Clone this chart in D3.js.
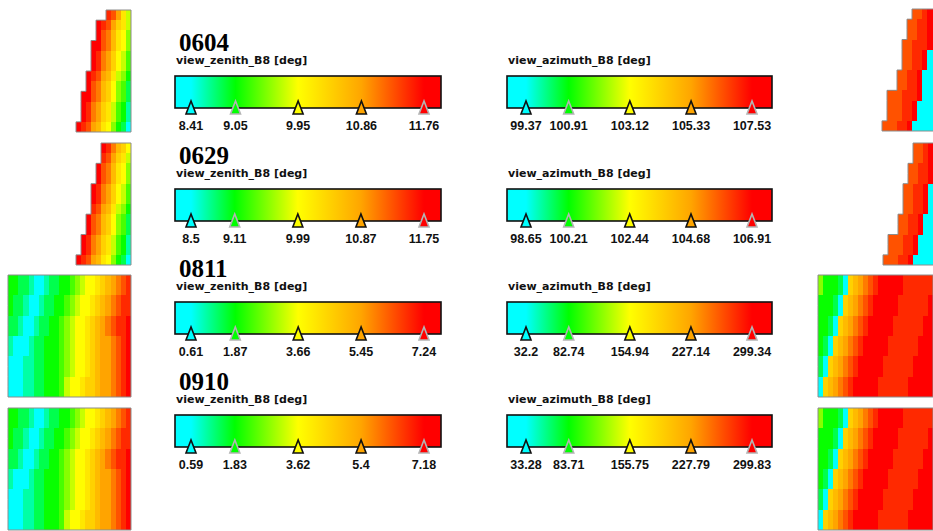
<!DOCTYPE html>
<html>
<head>
<meta charset="utf-8">
<script src="https://cdn.jsdelivr.net/npm/d3@7"></script>
<style>
  body { margin: 0; background: #fff; }
  svg { display: block; }
</style>
</head>
<body>
<svg id="chart" width="933" height="531"></svg>
<script>
"use strict";

// acquisition dates, one block each
const dates = ["0604", "0629", "0811", "0910"];

const zenithTitle = "view_zenith_B8 [deg]";
const azimuthTitle = "view_azimuth_B8 [deg]";

// colour bar marker values per date
const zenithTicks = [
  [8.41, 9.05, 9.95, 10.86, 11.76],
  [8.5, 9.11, 9.99, 10.87, 11.75],
  [0.61, 1.87, 3.66, 5.45, 7.24],
  [0.59, 1.83, 3.62, 5.4, 7.18]
];
const azimuthTicks = [
  [99.37, 100.91, 103.12, 105.33, 107.53],
  [98.65, 100.21, 102.44, 104.68, 106.91],
  [32.2, 82.74, 154.94, 227.14, 299.34],
  [33.28, 83.71, 155.75, 227.79, 299.83]
];

// colours at the five markers
const rampColors = ["#00ffff", "#00ff00", "#ffff00", "#ffa500", "#ff0000"];
const markerStroke = ["#111", "#b4b4b4", "#111", "#111", "#b4b4b4"];

// thumbnails: one string per raster row, hex level 0 (min) .. f (max), "." = no data
const zenith0604 = [
  "......edb86",
  "....fedb986",
  "....fdca875",
  "...ffdca875",
  "...fecb9764",
  "...fecb9764",
  "..fedba8653",
  "..fdca97542",
  ".ffdca97542",
  ".fecb986431",
  ".fecb986431",
  "fedba875320"
];
const zenith0629 = [
  ".....feca97",
  ".....edb986",
  "....fdca875",
  "....fdca875",
  "...fecb9764",
  "...fecb9764",
  "...edba8653",
  "..fdca97542",
  "..fdca97542",
  ".fecb986431",
  ".fecb986431",
  "fedba875320"
];
const zenith0811 = [
  "3322100122334567789abcde",
  "3322100122334567789abcde",
  "322100122334567789abcdee",
  "322100122334567789abcdee",
  "22100122334567789abcdeef",
  "22100122334567789abcdeef",
  "10001223334567789abbcdef",
  "10001223334567789abbcdef",
  "00011223334567789abbcdef",
  "00011223334567789abbcdef",
  "00011223334677899abbcdef",
  "00011223334677899abbcdef"
];
const zenith0910 = [
  "3322100122334567789abcde",
  "3322100122334567789abcde",
  "322100122334567789abcdee",
  "322100122334567789abcdee",
  "22100122334567789abcdeef",
  "22100122334567789abcdeef",
  "10001223334567789abbcdef",
  "10001223334567789abbcdef",
  "00011223334567789abbcdef",
  "00011223334567789abbcdef",
  "00011223334677899abbcdef",
  "00011223334677899abbcdef"
];
const azimuth0604 = [
  "......ddeff",
  ".....ddeeff",
  ".....ddeeff",
  "....ddeeeff",
  "....ddeef00",
  "....ddeef00",
  "...ddeef000",
  "...ddeef000",
  ".dddeeef000",
  ".dddeef0000",
  ".dddeef0000",
  "dddeef00000"
];
const azimuth0629 = [
  "......ddeff",
  "......ddeff",
  ".....ddeeff",
  ".....ddeeff",
  "....ddeef00",
  "....ddeef00",
  "....ddeef00",
  "...ddeef000",
  "...ddeef000",
  ".dddeef0000",
  ".dddeef0000",
  "dddeef00000"
];
const azimuth0811 = [
  "5333209abcdefffffeeeeee",
  "5333209abcdefffffeeeeee",
  "333209abcdefffffeeeeeef",
  "333209abcdefffffeeeeeef",
  "33209abcdefffffeeeeeeff",
  "33209abcdefffffeeeeeeff",
  "3209abcdefffffeeeeeefff",
  "3209abcdefffffeeeeeefff",
  "209abcdefffffeeeeeeffff",
  "209abcdefffffeeeeeeffff",
  "09abcdefffffeeeeeefffff",
  "09abcdefffffeeeeeefffff"
];
const azimuth0910 = [
  "5333209abcdefffffeeeeee",
  "5333209abcdefffffeeeeee",
  "333209abcdefffffeeeeeef",
  "333209abcdefffffeeeeeef",
  "33209abcdefffffeeeeeeff",
  "33209abcdefffffeeeeeeff",
  "3209abcdefffffeeeeeefff",
  "3209abcdefffffeeeeeefff",
  "209abcdefffffeeeeeeffff",
  "209abcdefffffeeeeeeffff",
  "09abcdefffffeeeeeefffff",
  "09abcdefffffeeeeeefffff"
];

const zenithMaps = [zenith0604, zenith0629, zenith0811, zenith0910];
const azimuthMaps = [azimuth0604, azimuth0629, azimuth0811, azimuth0910];

// ---- layout ----
const step = 113;   // vertical distance between date blocks
const bars = [
  {title: zenithTitle, ticks: zenithTicks, x0: 175, x1: 441, pad0: 16, pad1: 17},
  {title: azimuthTitle, ticks: azimuthTicks, x0: 507, x1: 772, pad0: 19, pad1: 20}
];
const thumbsLeft = [
  {x: 76, y: 10, cw: 5}, {x: 76, y: 143, cw: 5},
  {x: 8, y: 275, cw: 123 / 24}, {x: 8, y: 408, cw: 123 / 24}
];
const thumbsRight = [
  {x: 882, y: 9, cw: 5}, {x: 883, y: 143, cw: 5},
  {x: 818, y: 275, cw: 5}, {x: 818, y: 408, cw: 5}
];
const thumbH = 122;

const svg = d3.select("#chart");
const defs = svg.append("defs");

// level (0..15) -> colour, stops placed like the markers on the bar
const t0 = zenithTicks[0];
const rampStops = t0.map(v => (v - t0[0]) / (t0[4] - t0[0]));
const ramp = d3.scaleLinear().domain(rampStops).range(rampColors).clamp(true);
const level = d3.scaleLinear().domain([0, 15]).range([0, 1]);

function drawThumb(rows, pos) {
  let n = rows[0].length;
  let xs = d3.scaleLinear().domain([0, n]).range([pos.x, pos.x + n * pos.cw]);
  let ys = d3.scaleLinear().domain([0, rows.length]).range([pos.y, pos.y + thumbH]);
  let cells = [];
  rows.forEach((row, r) => row.split("").forEach((ch, c) => {
    if (ch != ".") cells.push({r, c, v: level(parseInt(ch, 16))});
  }));
  let g = svg.append("g");
  g.selectAll("rect").data(cells).join("rect")
    .attr("x", d => xs(d.c))
    .attr("y", d => ys(d.r))
    .attr("width", d => xs(d.c + 1) - xs(d.c) + 0.4)
    .attr("height", d => ys(d.r + 1) - ys(d.r) + 0.4)
    .attr("fill", d => ramp(d.v))
    .attr("shape-rendering", "crispEdges");

  // staircase outline
  let starts = rows.map(row => row.search(/[^.]/));
  let pts = [[xs(starts[0]), ys(0)], [xs(n), ys(0)], [xs(n), ys(rows.length)]];
  for (let r = rows.length - 1; r >= 0; r--) {
    pts.push([xs(starts[r]), ys(r + 1)]);
    pts.push([xs(starts[r]), ys(r)]);
  }
  g.append("path")
    .attr("d", d3.line()(pts) + "Z")
    .attr("fill", "none")
    .attr("stroke", "#8c8c8c")
    .attr("stroke-width", 1);
}

function drawBar(cfg, ticks, i, oy) {
  let x = d3.scaleLinear().domain([ticks[0], ticks[4]]).range([cfg.x0 + cfg.pad0, cfg.x1 - cfg.pad1]);
  let id = `grad-${i}-${cfg.x0}`;
  let grad = defs.append("linearGradient").attr("id", id)
    .attr("gradientUnits", "userSpaceOnUse")
    .attr("x1", cfg.x0).attr("x2", cfg.x1).attr("y1", 0).attr("y2", 0);
  grad.selectAll("stop").data(ticks).join("stop")
    .attr("offset", d => (x(d) - cfg.x0) / (cfg.x1 - cfg.x0))
    .attr("stop-color", (d, k) => rampColors[k]);

  svg.append("text")
    .attr("x", cfg.x0 + 1).attr("y", 64 + oy)
    .attr("font-family", "'DejaVu Sans', Verdana, sans-serif")
    .attr("font-weight", "bold").attr("font-size", 11)
    .attr("fill", "#111")
    .text(cfg.title);

  svg.append("rect")
    .attr("x", cfg.x0).attr("y", 76 + oy)
    .attr("width", cfg.x1 - cfg.x0).attr("height", 32)
    .attr("fill", `url(#${id})`)
    .attr("stroke", "#111").attr("stroke-width", 1.6);

  let tri = d3.line();
  svg.append("g").selectAll("path").data(ticks).join("path")
    .attr("d", d => tri([[x(d), 101 + oy], [x(d) - 5, 114 + oy], [x(d) + 5, 114 + oy]]) + "Z")
    .attr("fill", (d, k) => rampColors[k])
    .attr("stroke", (d, k) => markerStroke[k])
    .attr("stroke-width", 1.6)
    .attr("stroke-linejoin", "miter");

  svg.append("g").selectAll("text").data(ticks).join("text")
    .attr("x", d => x(d)).attr("y", 130 + oy)
    .attr("text-anchor", "middle")
    .attr("font-family", "'Liberation Sans', Arial, sans-serif")
    .attr("font-weight", "bold").attr("font-size", 12.5)
    .attr("fill", "#111")
    .text(d => String(d));
}

dates.forEach((date, i) => {
  let oy = i * step;
  drawThumb(zenithMaps[i], thumbsLeft[i]);
  drawThumb(azimuthMaps[i], thumbsRight[i]);

  svg.append("text")
    .attr("x", 179).attr("y", 51 + oy)
    .attr("font-family", "'Liberation Serif', 'Times New Roman', serif")
    .attr("font-weight", "bold").attr("font-size", 25)
    .attr("fill", "#000")
    .text(date);

  bars.forEach(cfg => drawBar(cfg, cfg.ticks[i], i, oy));
});
</script>
</body>
</html>
